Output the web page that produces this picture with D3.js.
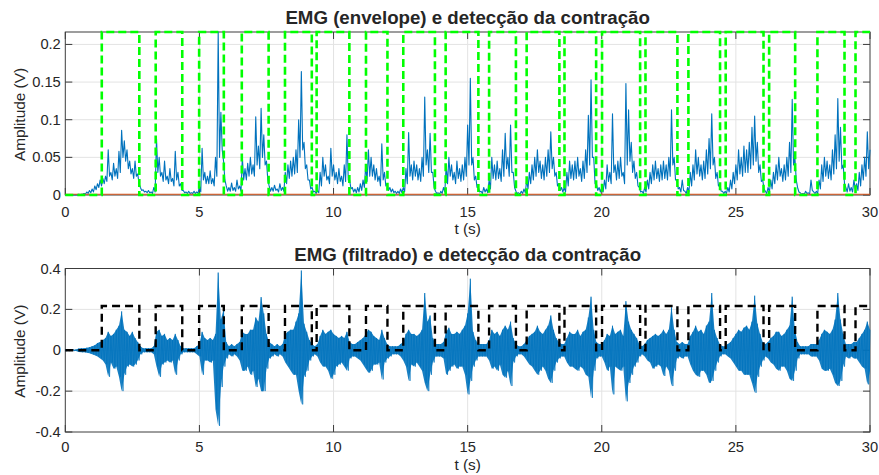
<!DOCTYPE html>
<html>
<head>
<meta charset="utf-8">
<script src="https://cdn.jsdelivr.net/npm/d3@7"></script>
<style>
  body { margin: 0; background: #fff; }
  svg text { font-family: "Liberation Sans", Arial, Helvetica, sans-serif; fill: #262626; }
</style>
</head>
<body>
<svg id="fig" width="879" height="475"></svg>
<script>
// sampling step of the stored series (s)
const dt = 0.1;

// EMG envelope (V): local peak within each 0.1 s step, 0 to 30 s
const envelope = [
  0, 0, 0, 0, 0, 0.001, 0.001, 0.002, 0.004, 0.006,
  0.008, 0.012, 0.015, 0.02, 0.022, 0.025, 0.06, 0.03, 0.042, 0.035,
  0.058, 0.086, 0.072, 0.06, 0.045, 0.035, 0.045, 0.028, 0.01, 0.007,
  0.005, 0.006, 0.004, 0.01, 0.075, 0.05, 0.03, 0.045, 0.025, 0.035,
  0.022, 0.058, 0.03, 0.015, 0.006, 0.004, 0.005, 0.003, 0.005, 0.004,
  0.012, 0.062, 0.03, 0.025, 0.032, 0.022, 0.05, 0.2165, 0.11, 0.045,
  0.012, 0.01, 0.016, 0.01, 0.02, 0.012, 0.05, 0.035, 0.042, 0.05,
  0.04, 0.104, 0.065, 0.115, 0.08, 0.045, 0.012, 0.01, 0.013, 0.008,
  0.015, 0.01, 0.03, 0.04, 0.045, 0.05, 0.06, 0.1, 0.164, 0.07,
  0.04, 0.02, 0.01, 0.005, 0.006, 0.03, 0.05, 0.04, 0.025, 0.062,
  0.04, 0.03, 0.035, 0.025, 0.04, 0.08, 0.02, 0.01, 0.008, 0.01,
  0.015, 0.02, 0.04, 0.06, 0.05, 0.04, 0.035, 0.025, 0.068, 0.03,
  0.015, 0.01, 0.008, 0.005, 0.005, 0.008, 0.01, 0.035, 0.083, 0.04,
  0.045, 0.04, 0.035, 0.05, 0.13, 0.06, 0.082, 0.03, 0.005, 0.003,
  0.005, 0.01, 0.04, 0.05, 0.04, 0.03, 0.045, 0.035, 0.04, 0.05,
  0.093, 0.155, 0.05, 0.025, 0.01, 0.005, 0.01, 0.008, 0.02, 0.05,
  0.04, 0.045, 0.035, 0.06, 0.082, 0.05, 0.093, 0.03, 0.005, 0.003,
  0.005, 0.008, 0.02, 0.03, 0.04, 0.05, 0.06, 0.045, 0.04, 0.05,
  0.06, 0.084, 0.05, 0.03, 0.015, 0.01, 0.01, 0.03, 0.045, 0.04,
  0.045, 0.05, 0.035, 0.045, 0.06, 0.106, 0.153, 0.05, 0.015, 0.01,
  0.01, 0.02, 0.04, 0.03, 0.108, 0.04, 0.045, 0.05, 0.03, 0.148,
  0.113, 0.07, 0.045, 0.03, 0.01, 0.005, 0.01, 0.02, 0.03, 0.04,
  0.045, 0.035, 0.04, 0.045, 0.04, 0.05, 0.113, 0.05, 0.02, 0.01,
  0.02, 0.005, 0.01, 0.03, 0.04, 0.06, 0.05, 0.04, 0.045, 0.06,
  0.075, 0.108, 0.05, 0.03, 0.015, 0.005, 0.005, 0.01, 0.02, 0.03,
  0.04, 0.06, 0.05, 0.065, 0.06, 0.07, 0.09, 0.105, 0.07, 0.04,
  0.02, 0.005, 0.01, 0.02, 0.03, 0.04, 0.05, 0.035, 0.04, 0.05,
  0.07, 0.127, 0.05, 0.01, 0.003, 0.002, 0.005, 0.003, 0.02, 0.004,
  0.005, 0.02, 0.04, 0.05, 0.045, 0.04, 0.06, 0.08, 0.128, 0.09,
  0.04, 0.01, 0.015, 0.01, 0.02, 0.015, 0.03, 0.04, 0.05, 0.084,
  0.06
];
// EMG envelope (V): local dip that follows each peak
const envelopeDip = [
  0, 0, 0, 0, 0, 0, 0.001, 0.001, 0.002, 0.003,
  0.004, 0.007, 0.01, 0.012, 0.015, 0.018, 0.025, 0.02, 0.025, 0.022,
  0.03, 0.05, 0.045, 0.035, 0.028, 0.022, 0.025, 0.015, 0.006, 0.004,
  0.003, 0.003, 0.002, 0.004, 0.03, 0.025, 0.018, 0.02, 0.015, 0.018,
  0.012, 0.02, 0.012, 0.006, 0.003, 0.002, 0.002, 0.002, 0.002, 0.002,
  0.004, 0.02, 0.015, 0.015, 0.015, 0.012, 0.025, 0.05, 0.06, 0.02,
  0.005, 0.005, 0.006, 0.005, 0.008, 0.005, 0.02, 0.02, 0.025, 0.028,
  0.025, 0.04, 0.035, 0.05, 0.04, 0.02, 0.005, 0.005, 0.006, 0.004,
  0.006, 0.005, 0.015, 0.022, 0.025, 0.028, 0.03, 0.05, 0.06, 0.035,
  0.02, 0.008, 0.004, 0.002, 0.003, 0.012, 0.025, 0.02, 0.015, 0.025,
  0.02, 0.015, 0.018, 0.012, 0.018, 0.02, 0.008, 0.004, 0.003, 0.004,
  0.006, 0.01, 0.018, 0.025, 0.025, 0.02, 0.018, 0.012, 0.02, 0.012,
  0.006, 0.004, 0.003, 0.002, 0.002, 0.003, 0.004, 0.015, 0.025, 0.02,
  0.025, 0.02, 0.018, 0.025, 0.04, 0.03, 0.03, 0.01, 0.002, 0.001,
  0.002, 0.004, 0.015, 0.025, 0.02, 0.015, 0.022, 0.018, 0.02, 0.025,
  0.04, 0.04, 0.02, 0.01, 0.004, 0.002, 0.004, 0.003, 0.008, 0.022,
  0.02, 0.022, 0.018, 0.025, 0.035, 0.025, 0.03, 0.01, 0.002, 0.001,
  0.002, 0.003, 0.008, 0.015, 0.02, 0.025, 0.03, 0.022, 0.02, 0.025,
  0.03, 0.035, 0.025, 0.012, 0.006, 0.004, 0.004, 0.012, 0.022, 0.02,
  0.022, 0.025, 0.018, 0.022, 0.03, 0.04, 0.05, 0.015, 0.006, 0.004,
  0.004, 0.008, 0.018, 0.015, 0.03, 0.02, 0.022, 0.025, 0.015, 0.04,
  0.045, 0.03, 0.022, 0.012, 0.004, 0.002, 0.004, 0.008, 0.015, 0.02,
  0.022, 0.018, 0.02, 0.022, 0.02, 0.025, 0.04, 0.02, 0.008, 0.004,
  0.006, 0.002, 0.004, 0.012, 0.02, 0.028, 0.025, 0.02, 0.022, 0.028,
  0.035, 0.04, 0.022, 0.012, 0.005, 0.002, 0.002, 0.004, 0.008, 0.015,
  0.02, 0.028, 0.025, 0.03, 0.03, 0.035, 0.04, 0.045, 0.03, 0.018,
  0.008, 0.002, 0.004, 0.008, 0.015, 0.02, 0.025, 0.018, 0.02, 0.025,
  0.03, 0.04, 0.02, 0.004, 0.001, 0.001, 0.002, 0.001, 0.006, 0.002,
  0.002, 0.008, 0.018, 0.025, 0.022, 0.02, 0.028, 0.035, 0.045, 0.035,
  0.015, 0.004, 0.005, 0.004, 0.008, 0.006, 0.012, 0.02, 0.025, 0.035,
  0.03
];

// filtered EMG (V): upper and lower excursion within each 0.1 s step
const filtHi = [
  0.003, 0.003, 0.003, 0.003, 0.004, 0.008, 0.01, 0.01, 0.012, 0.015,
  0.02, 0.025, 0.035, 0.04, 0.05, 0.06, 0.09, 0.07, 0.08, 0.1,
  0.12, 0.19, 0.1, 0.09, 0.07, 0.09, 0.06, 0.04, 0.02, 0.01,
  0.01, 0.01, 0.01, 0.02, 0.09, 0.1, 0.07, 0.08, 0.05, 0.06,
  0.05, 0.08, 0.05, 0.02, 0.01, 0.01, 0.01, 0.01, 0.01, 0.02,
  0.03, 0.09, 0.06, 0.05, 0.06, 0.05, 0.08, 0.38, 0.15, 0.2,
  0.04, 0.02, 0.03, 0.02, 0.03, 0.04, 0.09, 0.08, 0.08, 0.1,
  0.1, 0.16, 0.14, 0.26, 0.18, 0.08, 0.04, 0.03, 0.02, 0.03,
  0.02, 0.03, 0.08, 0.09, 0.1, 0.1, 0.14, 0.18, 0.39, 0.13,
  0.09, 0.05, 0.03, 0.02, 0.03, 0.07, 0.1, 0.08, 0.09, 0.1,
  0.08, 0.07, 0.06, 0.07, 0.06, 0.09, 0.04, 0.03, 0.03, 0.04,
  0.05, 0.06, 0.08, 0.1, 0.09, 0.07, 0.06, 0.05, 0.1, 0.06,
  0.03, 0.02, 0.02, 0.02, 0.02, 0.03, 0.04, 0.08, 0.1, 0.08,
  0.08, 0.07, 0.08, 0.1, 0.28, 0.14, 0.17, 0.06, 0.03, 0.03,
  0.03, 0.04, 0.09, 0.11, 0.08, 0.08, 0.09, 0.08, 0.1, 0.12,
  0.18, 0.35, 0.09, 0.05, 0.03, 0.03, 0.03, 0.03, 0.05, 0.1,
  0.08, 0.09, 0.07, 0.1, 0.12, 0.1, 0.14, 0.06, 0.03, 0.02,
  0.02, 0.03, 0.05, 0.07, 0.08, 0.09, 0.12, 0.09, 0.08, 0.1,
  0.12, 0.17, 0.1, 0.06, 0.04, 0.03, 0.03, 0.06, 0.09, 0.08,
  0.08, 0.1, 0.07, 0.09, 0.1, 0.16, 0.262, 0.1, 0.04, 0.03,
  0.03, 0.05, 0.08, 0.07, 0.12, 0.08, 0.09, 0.1, 0.07, 0.24,
  0.14, 0.1, 0.08, 0.06, 0.03, 0.02, 0.03, 0.05, 0.06, 0.07,
  0.08, 0.07, 0.08, 0.1, 0.08, 0.1, 0.21, 0.1, 0.04, 0.03,
  0.04, 0.03, 0.03, 0.07, 0.09, 0.12, 0.09, 0.1, 0.08, 0.12,
  0.14, 0.28, 0.1, 0.06, 0.03, 0.02, 0.02, 0.03, 0.04, 0.06,
  0.08, 0.1, 0.09, 0.11, 0.12, 0.1, 0.14, 0.267, 0.13, 0.08,
  0.04, 0.03, 0.04, 0.06, 0.07, 0.09, 0.09, 0.07, 0.08, 0.1,
  0.12, 0.262, 0.1, 0.04, 0.02, 0.02, 0.02, 0.02, 0.03, 0.03,
  0.03, 0.05, 0.08, 0.1, 0.09, 0.08, 0.1, 0.15, 0.28, 0.15,
  0.08, 0.03, 0.03, 0.03, 0.04, 0.04, 0.06, 0.08, 0.1, 0.14,
  0.1
];
const filtLo = [
  -0.003, -0.003, -0.003, -0.003, -0.004, -0.008, -0.01, -0.01, -0.012, -0.015,
  -0.02, -0.025, -0.03, -0.04, -0.05, -0.07, -0.13, -0.06, -0.09, -0.08,
  -0.13, -0.2, -0.12, -0.08, -0.07, -0.08, -0.07, -0.05, -0.02, -0.01,
  -0.01, -0.01, -0.01, -0.02, -0.08, -0.13, -0.07, -0.06, -0.05, -0.06,
  -0.05, -0.12, -0.05, -0.02, -0.01, -0.01, -0.01, -0.01, -0.01, -0.02,
  -0.03, -0.12, -0.05, -0.05, -0.06, -0.05, -0.29, -0.37, -0.18, -0.08,
  -0.04, -0.02, -0.03, -0.02, -0.03, -0.05, -0.1, -0.1, -0.08, -0.12,
  -0.1, -0.18, -0.14, -0.2, -0.2, -0.09, -0.04, -0.03, -0.02, -0.03,
  -0.02, -0.03, -0.06, -0.08, -0.1, -0.12, -0.12, -0.2, -0.265, -0.13,
  -0.1, -0.05, -0.03, -0.02, -0.03, -0.06, -0.08, -0.08, -0.1, -0.14,
  -0.12, -0.08, -0.07, -0.06, -0.08, -0.1, -0.04, -0.03, -0.03, -0.04,
  -0.05, -0.07, -0.09, -0.11, -0.1, -0.07, -0.07, -0.06, -0.143, -0.06,
  -0.04, -0.03, -0.02, -0.02, -0.02, -0.03, -0.05, -0.08, -0.15, -0.07,
  -0.08, -0.06, -0.08, -0.1, -0.16, -0.2, -0.12, -0.06, -0.03, -0.03,
  -0.03, -0.04, -0.12, -0.1, -0.08, -0.07, -0.09, -0.08, -0.08, -0.12,
  -0.216, -0.15, -0.08, -0.05, -0.03, -0.03, -0.03, -0.03, -0.05, -0.09,
  -0.08, -0.1, -0.07, -0.12, -0.134, -0.1, -0.175, -0.06, -0.03, -0.02,
  -0.02, -0.03, -0.05, -0.07, -0.08, -0.1, -0.12, -0.1, -0.08, -0.1,
  -0.14, -0.16, -0.1, -0.06, -0.04, -0.03, -0.03, -0.06, -0.08, -0.08,
  -0.09, -0.1, -0.08, -0.09, -0.12, -0.13, -0.233, -0.1, -0.04, -0.03,
  -0.03, -0.06, -0.1, -0.08, -0.216, -0.08, -0.09, -0.1, -0.08, -0.25,
  -0.16, -0.12, -0.08, -0.06, -0.03, -0.02, -0.03, -0.05, -0.06, -0.09,
  -0.08, -0.07, -0.08, -0.126, -0.08, -0.1, -0.175, -0.1, -0.04, -0.03,
  -0.04, -0.03, -0.03, -0.07, -0.1, -0.12, -0.13, -0.1, -0.1, -0.12,
  -0.16, -0.15, -0.1, -0.06, -0.03, -0.02, -0.02, -0.03, -0.04, -0.06,
  -0.08, -0.1, -0.1, -0.12, -0.12, -0.12, -0.16, -0.208, -0.13, -0.08,
  -0.05, -0.03, -0.04, -0.06, -0.07, -0.09, -0.1, -0.08, -0.08, -0.1,
  -0.14, -0.15, -0.1, -0.04, -0.02, -0.02, -0.02, -0.02, -0.03, -0.03,
  -0.03, -0.05, -0.09, -0.1, -0.1, -0.09, -0.12, -0.16, -0.175, -0.15,
  -0.08, -0.03, -0.04, -0.03, -0.04, -0.04, -0.06, -0.08, -0.09, -0.167,
  -0.1
];

// detected contractions: start and end times (s)
const onsets  = [1.36, 3.37, 4.99, 6.58, 8.19, 9.37, 11.21, 12.60, 14.18, 15.80,
                 17.20, 18.61, 20.01, 21.63, 23.23, 24.62, 26.24, 28.04, 29.46];
const offsets = [2.76, 4.36, 5.91, 7.58, 9.19, 10.59, 12.01, 13.78, 15.40, 16.80,
                 18.42, 19.79, 21.43, 22.82, 24.41, 26.03, 27.21, 29.05, 30.00];

// detection threshold (V)
const threshold = 0.001;

// tick values
const xTicks = [0, 5, 10, 15, 20, 25, 30];
const envTicks = [0, 0.05, 0.1, 0.15, 0.2];
const filtTicks = [-0.4, -0.2, 0, 0.2, 0.4];

const titles = ["EMG (envelope) e detecção da contração", "EMG (filtrado) e detecção da contração"];

const tMax = 30;
const detLevel = d3.max(envelope);   // pulse height of the detection signal

const svg = d3.select("#fig");
const C = { blue: "#0072BD", red: "#D95319", green: "#00FF00", axis: "#3c3c3c", grid: "#e3e3e3" };

function panel(box, yDomain, yTicks, title) {
  const x = d3.scaleLinear().domain([0, tMax]).range([box.left, box.right]);
  const y = d3.scaleLinear().domain(yDomain).range([box.bottom, box.top]);
  const g = svg.append("g");

  // grid
  g.append("g").selectAll("line").data(xTicks.slice(1, -1)).join("line")
    .attr("x1", d => x(d)).attr("x2", d => x(d))
    .attr("y1", box.top).attr("y2", box.bottom)
    .attr("stroke", C.grid).attr("stroke-width", 1);
  g.append("g").selectAll("line").data(yTicks.filter(v => y(v) > box.top + 1 && y(v) < box.bottom - 1)).join("line")
    .attr("x1", box.left).attr("x2", box.right)
    .attr("y1", d => y(d)).attr("y2", d => y(d))
    .attr("stroke", C.grid).attr("stroke-width", 1);

  // frame and inward ticks on all four sides
  g.append("rect").attr("x", box.left).attr("y", box.top)
    .attr("width", box.right - box.left).attr("height", box.bottom - box.top)
    .attr("fill", "none").attr("stroke", C.axis).attr("stroke-width", 1);
  const tl = 7;
  const tk = g.append("g").attr("stroke", C.axis).attr("stroke-width", 1);
  xTicks.forEach(v => {
    tk.append("line").attr("x1", x(v)).attr("x2", x(v)).attr("y1", box.bottom).attr("y2", box.bottom - tl);
    tk.append("line").attr("x1", x(v)).attr("x2", x(v)).attr("y1", box.top).attr("y2", box.top + tl);
  });
  yTicks.forEach(v => {
    tk.append("line").attr("x1", box.left).attr("x2", box.left + tl).attr("y1", y(v)).attr("y2", y(v));
    tk.append("line").attr("x1", box.right).attr("x2", box.right - tl).attr("y1", y(v)).attr("y2", y(v));
  });

  // tick labels
  g.append("g").selectAll("text").data(xTicks).join("text")
    .attr("x", d => x(d)).attr("y", box.bottom + box.xLabelDy)
    .attr("text-anchor", "middle").attr("font-size", 14.7)
    .text(d => String(d));
  g.append("g").selectAll("text").data(yTicks).join("text")
    .attr("x", box.left - 4.5).attr("y", d => y(d) + 5)
    .attr("text-anchor", "end").attr("font-size", 14.7)
    .text(d => String(d));

  // axis labels and title
  g.append("text").attr("x", (box.left + box.right) / 2).attr("y", box.bottom + box.xTitleDy)
    .attr("text-anchor", "middle").attr("font-size", 15.4).text("t (s)");
  g.append("text")
    .attr("transform", `translate(25,${(box.top + box.bottom) / 2 + 1}) rotate(-90)`)
    .attr("text-anchor", "middle").attr("font-size", 15.4).text("Amplitude (V)");
  g.append("text").attr("x", (box.left + box.right) / 2).attr("y", box.top - 8)
    .attr("text-anchor", "middle").attr("font-size", 18.7).attr("font-weight", "bold")
    .text(title);

  return { x, y, g };
}

// step waveform of the detection signal
function detectionPoints() {
  const pts = [[0, 0]];
  onsets.forEach((on, i) => {
    pts.push([on, 0], [on, detLevel], [offsets[i], detLevel]);
    if (offsets[i] < tMax) pts.push([offsets[i], 0]);
  });
  return pts;
}

// alternate peak / dip samples half a step apart
function interleave(peaks, dips) {
  const pts = [];
  peaks.forEach((p, i) => {
    pts.push([i * dt, p]);
    if (i * dt + dt / 2 <= tMax) pts.push([i * dt + dt / 2, dips[i]]);
  });
  return pts;
}

// ---- upper panel: envelope
const envPanel = panel({ left: 65.3, right: 870, top: 32, bottom: 195, xLabelDy: 21.5, xTitleDy: 39 },
                       [0, detLevel], envTicks, titles[0]);
envPanel.g.append("path").datum(interleave(envelope, envelopeDip))
  .attr("d", d3.line().x(d => envPanel.x(d[0])).y(d => envPanel.y(d[1])))
  .attr("fill", "none").attr("stroke", C.blue).attr("stroke-width", 1.1)
  .attr("stroke-linejoin", "round");
envPanel.g.append("path").datum([[0, threshold], [tMax, threshold]])
  .attr("d", d3.line().x(d => envPanel.x(d[0])).y(d => envPanel.y(d[1])))
  .attr("fill", "none").attr("stroke", C.red).attr("stroke-width", 1.2);
envPanel.g.append("path").datum(detectionPoints())
  .attr("d", d3.line().x(d => envPanel.x(d[0])).y(d => envPanel.y(d[1])))
  .attr("fill", "none").attr("stroke", C.green).attr("stroke-width", 2.6)
  .attr("stroke-dasharray", "8,4");

// ---- lower panel: filtered EMG
const filtPanel = panel({ left: 65.3, right: 870, top: 268.5, bottom: 432, xLabelDy: 20, xTitleDy: 38 },
                        [-0.4, 0.4], filtTicks, titles[1]);
const fx = (d, i) => filtPanel.x(i * dt);
// dense oscillation band between the per-step extremes
filtPanel.g.append("path").datum(filtHi)
  .attr("d", d3.area().x(fx).y0((d, i) => filtPanel.y(filtLo[i])).y1(d => filtPanel.y(d)))
  .attr("fill", C.blue).attr("fill-opacity", 0.9);
filtPanel.g.append("path").datum(interleave(filtHi, filtLo))
  .attr("d", d3.line().x(d => filtPanel.x(d[0])).y(d => filtPanel.y(d[1])))
  .attr("fill", "none").attr("stroke", C.blue).attr("stroke-width", 0.7);
filtPanel.g.append("path").datum(detectionPoints())
  .attr("d", d3.line().x(d => filtPanel.x(d[0])).y(d => filtPanel.y(d[1])))
  .attr("fill", "none").attr("stroke", "#000").attr("stroke-width", 2.4)
  .attr("stroke-dasharray", "8,5");
</script>
</body>
</html>
